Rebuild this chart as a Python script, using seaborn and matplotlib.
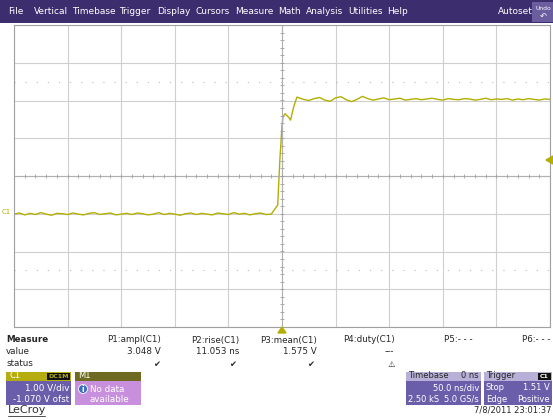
import numpy as np
import pandas as pd
import matplotlib
matplotlib.use("Agg")
import matplotlib.pyplot as plt
from matplotlib.patches import Rectangle, Ellipse
import seaborn as sns

sns.set_style("white")
plt.rcParams['font.family'] = ['DejaVu Sans']

# ---- data (time in ns, voltage in V) ----
low_times = list(range(-250, -5, 5))
low_volts = [0.06, 0.09, 0.04, 0.08, 0.05, 0.10, 0.06, 0.03, 0.08, 0.07,
             0.05, 0.09, 0.06, 0.04, 0.08, 0.10, 0.05, 0.07, 0.09, 0.04,
             0.06, 0.08, 0.05, 0.09, 0.07, 0.04, 0.06, 0.10, 0.05, 0.08,
             0.06, 0.03, 0.07, 0.09, 0.05, 0.08, 0.06, 0.04, 0.09, 0.07,
             0.05, 0.10, 0.06, 0.08, 0.04, 0.07, 0.09, 0.05, 0.06]
edge_times = [-4, -2, 0, 1, 3, 5, 7, 8, 10, 12, 14, 16, 18]
edge_volts = [0.30, 1.50, 2.40, 2.65, 2.72, 2.66, 2.60, 2.55, 2.80, 3.00, 3.16, 3.14, 3.12]
high_times = list(range(20, 251, 5))
high_volts = [3.10, 3.07, 3.12, 3.15, 3.08, 3.05, 3.14, 3.17, 3.09, 3.04,
              3.10, 3.18, 3.12, 3.08, 3.11, 3.14, 3.09, 3.11, 3.13, 3.08,
              3.10, 3.12, 3.09, 3.11, 3.13, 3.10, 3.08, 3.12, 3.10, 3.09,
              3.12, 3.11, 3.08, 3.10, 3.13, 3.09, 3.11, 3.10, 3.12, 3.08,
              3.11, 3.09, 3.12, 3.10, 3.08, 3.11, 3.10]

times = low_times + edge_times + high_times
volts = low_volts + edge_volts + high_volts
df = pd.DataFrame({"t": times, "v": volts})

W, H = 553, 420
fig = plt.figure(figsize=(W / 100, H / 100), dpi=100)
fig.patch.set_facecolor("white")

def fx(x): return x / W
def fy(y): return 1 - y / H

def box(x0, y0, x1, y1, color, **kw):
    fig.patches.append(Rectangle((fx(x0), fy(y1)), fx(x1 - x0), (y1 - y0) / H,
                                 transform=fig.transFigure, facecolor=color,
                                 edgecolor=kw.get("ec", "none"), lw=kw.get("lw", 0)))

def txt(x, y, s, **kw):
    kw.setdefault("fontsize", 6.3)
    kw.setdefault("va", "center")
    fig.text(fx(x), fy(y), s, **kw)

# menu bar
box(0, 0, 553, 23, "#3b2d6e")
menu = ["File", "Vertical", "Timebase", "Trigger", "Display", "Cursors", "Measure",
        "Math", "Analysis", "Utilities", "Help"]
menu_x = [8, 34, 72, 119, 157, 195, 235, 278, 306, 348, 387]
for m, x in zip(menu, menu_x):
    txt(x, 12, m, color="white", fontsize=6.5)
txt(498, 12, "Autoset", color="white", fontsize=6.5)
box(532, 2, 553, 22, "#6a5e9e")
txt(543, 8, "Undo", color="white", fontsize=4.3, ha="center")
txt(543, 16, "↶", color="white", fontsize=6, ha="center")

# plot area
ax = fig.add_axes([fx(14), fy(327), fx(550 - 14), (327 - 25) / H])
sns.lineplot(data=df, x="t", y="v", ax=ax, color="#b3ae00", lw=1.0)
off = -1.07
ax.set_xlim(-250, 250)
ax.set_ylim(-4 - off, 4 - off)
ax.set_xticks(np.arange(-250, 251, 50))
ax.set_yticks(np.arange(-4, 5) - off)
ax.grid(True, color="#cfcfcf", lw=0.8)
ax.set_xticklabels([]); ax.set_yticklabels([])
ax.set_xlabel(""); ax.set_ylabel("")
ax.tick_params(length=0)
for s in ax.spines.values():
    s.set_color("#a0a0a0"); s.set_linewidth(0.8)
ax.axhline(0 - off, color="#b0b0b0", lw=0.8)
ax.axvline(0, color="#b0b0b0", lw=0.8)
for lvl in (2.5, -2.5):
    ax.axhline(lvl - off, color="#b8b8b8", lw=0.8, ls=(0, (1, 9)))
mt = np.arange(-250, 251, 10)
ax.plot(mt, np.full(mt.shape, -off), ls="none", marker="|", ms=3, color="#a0a0a0", mew=0.6)
mv = np.arange(-4, 4.01, 0.2) - off
ax.plot(np.zeros(mv.shape), mv, ls="none", marker="_", ms=3, color="#a0a0a0", mew=0.6)
ax.set_zorder(1)

# markers around plot
txt(6, 212, "C1", color="#b3ae00", fontsize=5, ha="center")
fig.patches.append(plt.Polygon([[fx(546), fy(160)], [fx(553), fy(156)], [fx(553), fy(164)]],
                               transform=fig.transFigure, color="#b3ae00"))
fig.patches.append(plt.Polygon([[fx(278), fy(333)], [fx(286), fy(333)], [fx(282), fy(327)]],
                               transform=fig.transFigure, color="#b3ae00"))

# measure table
txt(6, 340, "Measure", fontweight="bold", fontsize=6.3)
txt(6, 352, "value"); txt(6, 364, "status")
heads = ["P1:ampl(C1)", "P2:rise(C1)", "P3:mean(C1)", "P4:duty(C1)", "P5:- - -", "P6:- - -"]
hx = [161, 239, 317, 395, 473, 551]
for h, x in zip(heads, hx):
    txt(x, 340, h, ha="right")
for v, x in zip(["3.048 V", "11.053 ns", "1.575 V", "---"], [161, 239, 317, 394]):
    txt(x, 352, v, ha="right")
for s, x in zip(["✔", "✔", "✔", "⚠"], [157, 233, 311, 391]):
    txt(x, 364, s, ha="center", fontsize=6)

# C1 box
box(6, 372, 71, 381, "#b5ad10")
box(6, 381, 71, 405, "#6a5eab")
txt(9, 376, "C1", color="white", fontsize=6)
box(47, 373, 70, 380, "#111111")
txt(58.5, 376.5, "DC1M", color="#b5ad10", fontsize=4.5, ha="center", fontweight="bold")
txt(69, 388, "1.00 V/div", color="white", ha="right")
txt(69, 399, "-1.070 V ofst", color="white", ha="right")
# M1 box
box(75, 372, 141, 381, "#6e6a22")
box(75, 381, 141, 405, "#c78fdc")
txt(78, 376, "M1", color="white", fontsize=6)
fig.patches.append(Ellipse((fx(83), fy(389)), fx(9), 9 / H, transform=fig.transFigure,
                           facecolor="#3a6fc0", edgecolor="white", lw=0.6))
txt(83, 389, "i", color="white", fontsize=5.5, ha="center", fontweight="bold")
txt(90, 389, "No data", color="white")
txt(90, 399, "available", color="white")
# Timebase box
box(406, 372, 481, 381, "#b8b0d6")
box(406, 381, 481, 405, "#6a5eab")
txt(408, 376, "Timebase", fontsize=6)
txt(479, 376, "0 ns", fontsize=6, ha="right")
txt(479, 388, "50.0 ns/div", color="white", ha="right", fontsize=6)
txt(408, 399, "2.50 kS", color="white", fontsize=6)
txt(479, 399, "5.0 GS/s", color="white", ha="right", fontsize=6)
# Trigger box
box(484, 372, 552, 381, "#b8b0d6")
box(484, 381, 552, 405, "#6a5eab")
txt(486, 376, "Trigger", fontsize=6)
box(538, 373, 551, 380, "#111111")
txt(544.5, 376.5, "C1", color="white", fontsize=4.5, ha="center", fontweight="bold")
txt(486, 388, "Stop", color="white", fontsize=6)
txt(550, 388, "1.51 V", color="white", ha="right", fontsize=6)
txt(486, 399, "Edge", color="white", fontsize=6)
txt(550, 399, "Positive", color="white", ha="right", fontsize=6)

# footer
txt(8, 410, "LeCroy", fontsize=8, color="#333333")
fig.lines.append(plt.Line2D([fx(8), fx(45)], [fy(416), fy(416)], transform=fig.transFigure,
                            color="#333333", lw=0.6))
txt(551, 410, "7/8/2011 23:01:37", ha="right", fontsize=6)

fig.savefig("out.png", dpi=100)
